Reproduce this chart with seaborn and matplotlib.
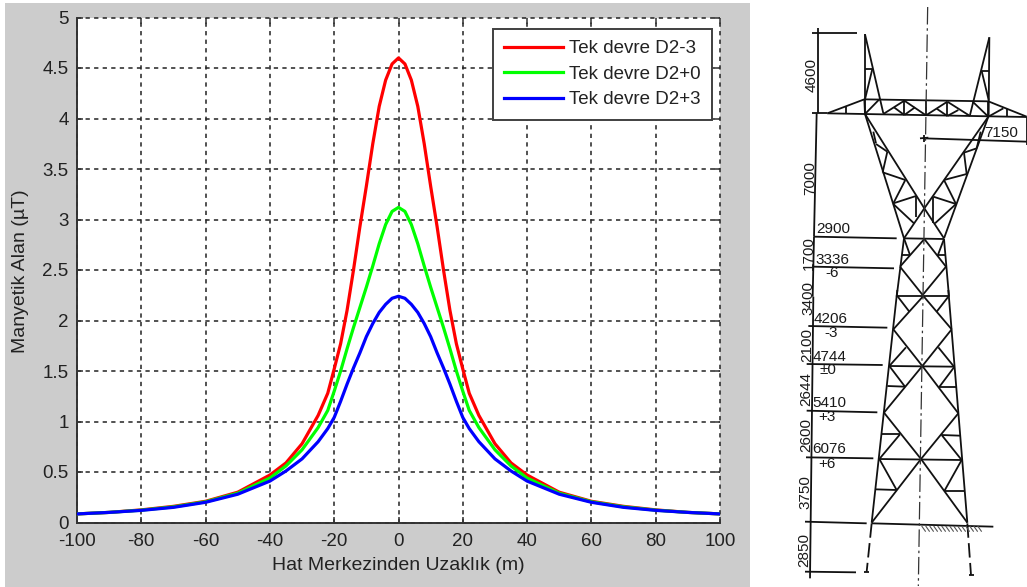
import matplotlib
matplotlib.use('Agg')
import matplotlib.pyplot as plt
import pandas as pd
import seaborn as sns
from matplotlib.collections import LineCollection
from matplotlib.patches import Rectangle

# values
x_m = [-100, -90, -80, -70, -60, -50, -40, -35, -30, -25, -22, -20, -18, -16, -14, -12, -10, -8, -6, -4, -2,
       0, 2, 4, 6, 8, 10, 12, 14, 16, 18, 20, 22, 25, 30, 35, 40, 50, 60, 70, 80, 90, 100]
red = [0.085, 0.10, 0.125, 0.16, 0.21, 0.30, 0.47, 0.59, 0.78, 1.06, 1.28, 1.52, 1.77, 2.10, 2.50, 2.93, 3.33, 3.75, 4.12, 4.38, 4.54,
       4.60, 4.54, 4.38, 4.12, 3.75, 3.33, 2.93, 2.50, 2.10, 1.77, 1.52, 1.28, 1.06, 0.78, 0.59, 0.47, 0.30, 0.21, 0.16, 0.125, 0.10, 0.085]
green = [0.085, 0.10, 0.122, 0.155, 0.205, 0.29, 0.44, 0.56, 0.72, 0.94, 1.11, 1.30, 1.50, 1.72, 1.93, 2.13, 2.33, 2.54, 2.76, 2.95, 3.08,
         3.12, 3.08, 2.95, 2.76, 2.54, 2.33, 2.13, 1.93, 1.72, 1.50, 1.30, 1.11, 0.94, 0.72, 0.56, 0.44, 0.29, 0.205, 0.155, 0.122, 0.10, 0.085]
blue = [0.085, 0.10, 0.12, 0.15, 0.20, 0.28, 0.41, 0.51, 0.63, 0.80, 0.93, 1.04, 1.20, 1.37, 1.53, 1.68, 1.84, 1.97, 2.08, 2.16, 2.22,
        2.24, 2.22, 2.16, 2.08, 1.97, 1.84, 1.68, 1.53, 1.37, 1.20, 1.04, 0.93, 0.80, 0.63, 0.51, 0.41, 0.28, 0.20, 0.15, 0.12, 0.10, 0.085]
series_names = ['Tek devre D2-3', 'Tek devre D2+0', 'Tek devre D2+3']
series_colors = ['#ff0000', '#00ff00', '#0000ff']
x_ticks = [-100, -80, -60, -40, -20, 0, 20, 40, 60, 80, 100]
x_tick_labels = ['-100', '-80', '-60', '-40', '-20', '0', '20', '40', '60', '80', '100']
y_ticks = [0, 0.5, 1, 1.5, 2, 2.5, 3, 3.5, 4, 4.5, 5]
y_tick_labels = ['0', '0.5', '1', '1.5', '2', '2.5', '3', '3.5', '4', '4.5', '5']

# tower drawing, traced in the pixel grid of the two crops (3x, origin 770,0 and 770,290)
tower_upper = [
    ((172, 340), (283, 298)), ((283, 298), (655, 304)), ((655, 304), (770, 350)), ((172, 340), (770, 351)),
    ((228, 320), (228, 342)), ((283, 298), (285, 342)), ((403, 300), (403, 345)), ((468, 302), (468, 346)),
    ((532, 305), (532, 348)), ((655, 304), (655, 350)), ((710, 328), (710, 350)),
    ((285, 342), (328, 298)), ((340, 342), (403, 302)), ((403, 302), (468, 346)), ((372, 322), (403, 345)),
    ((403, 345), (435, 322)), ((468, 346), (532, 305)), ((532, 305), (600, 348)), ((500, 326), (532, 348)),
    ((532, 348), (565, 330)), ((608, 305), (655, 350)), ((655, 350), (700, 325)),
    ((285, 103), (285, 340)), ((285, 103), (340, 340)), ((285, 207), (307, 207)), ((307, 207), (285, 298)),
    ((658, 112), (656, 345)), ((658, 112), (600, 345)), ((635, 213), (656, 213)), ((635, 213), (656, 300)),
    ((285, 342), (402, 715)), ((655, 350), (522, 715)), ((285, 342), (463, 625)), ((655, 350), (463, 625)),
    ((463, 625), (522, 715)), ((463, 625), (402, 715)),
    ((310, 395), (318, 430)), ((318, 432), (352, 455)), ((352, 455), (338, 517)), ((338, 517), (406, 540)),
    ((406, 540), (370, 610)), ((370, 610), (438, 588)), ((438, 588), (438, 650)), ((370, 612), (432, 670)),
    ((632, 395), (620, 445)), ((620, 445), (582, 458)), ((582, 458), (590, 522)), ((590, 522), (522, 540)),
    ((522, 540), (558, 612)), ((558, 612), (490, 590)), ((490, 590), (490, 668)), ((558, 612), (495, 670)),
    ((402, 715), (522, 717)), ((402, 715), (380, 890)), ((522, 717), (537, 890)),
    ((463, 717), (390, 800)), ((463, 717), (528, 800)), ((390, 800), (458, 885)), ((528, 800), (458, 885)),
    ((395, 765), (420, 765)), ((505, 765), (525, 765)), ((402, 715), (420, 765)), ((522, 717), (503, 767)),
    ((380, 888), (537, 888)),
    # dimension lines
    ((145, 85), (145, 340)), ((125, 100), (262, 100)), ((125, 340), (172, 340)), ((140, 340), (132, 710)),
    ((132, 710), (380, 715)), ((130, 800), (372, 805)), ((132, 710), (128, 890)),
    ((462, 415), (770, 425)), ((450, 415), (475, 413)), ((462, 405), (462, 425)), ((770, 350), (770, 435)),
]
tower_lower = [
    ((382, 0), (305, 698)), ((535, 0), (592, 698)),
    ((460, 18), (370, 118)), ((460, 18), (545, 118)), ((370, 118), (457, 228)), ((545, 118), (457, 228)),
    ((358, 228), (552, 230)), ((457, 228), (342, 368)), ((457, 228), (565, 370)),
    ((342, 368), (453, 507)), ((565, 370), (453, 507)), ((328, 507), (575, 510)),
    ((453, 507), (305, 698)), ((453, 507), (592, 698)),
    ((382, 18), (418, 65)), ((535, 20), (500, 65)), ((408, 172), (358, 228)), ((505, 172), (552, 230)),
    ((358, 228), (405, 290)), ((352, 288), (405, 290)), ((552, 232), (507, 292)), ((507, 292), (558, 292)),
    ((335, 433), (390, 433)), ((390, 433), (328, 507)), ((515, 435), (570, 437)), ((515, 435), (575, 510)),
    ((328, 507), (380, 600)), ((317, 598), (380, 600)), ((575, 510), (523, 603)), ((523, 603), (583, 603)),
    # dimension lines
    ((130, 20), (120, 865)), ((115, 108), (352, 113)), ((110, 222), (338, 225)), ((110, 362), (322, 367)),
    ((108, 502), (310, 505)), ((105, 695), (290, 700)), ((305, 700), (670, 710)), ((105, 845), (258, 847)),
    ((282, 847), (296, 847)), ((596, 855), (612, 855)),
]
tower_dashed = [((305, 700), (290, 845)), ((592, 700), (603, 855))]
ground_hatch = [((455 + i * 12, 708), (467 + i * 12, 725)) for i in range(15)]

# (text, crop x, crop y, rotation)
upper_labels = [('4600', 125, 225, 90), ('7000', 120, 535, 90), ('2900', 190, 688, 0), ('1700', 118, 760, 90),
                ('3336', 188, 780, 0), ('-6', 185, 820, 0), ('7150', 693, 398, 0)]
lower_labels = [('3400', 115, 25, 90), ('4206', 183, 87, 0), ('-3', 183, 130, 0), ('2100', 113, 165, 90),
                ('4744', 180, 200, 0), ('±0', 175, 240, 0), ('2644', 110, 298, 90), ('5410', 178, 340, 0),
                ('+3', 170, 382, 0), ('2600', 108, 435, 90), ('6076', 178, 478, 0), ('+6', 172, 522, 0),
                ('3750', 105, 605, 90), ('2850', 102, 780, 90)]


def up(p):
    return (770 + p[0] / 3, p[1] / 3)


def low(p):
    return (770 + p[0] / 3, 290 + p[1] / 3)


W, H = 1027, 587
plt.rcParams['font.family'] = ['Liberation Sans', 'DejaVu Sans']
fig = plt.figure(figsize=(W / 100, H / 100), dpi=100, facecolor='white')

# background layer in pixel coordinates: grey panel and the tower
bg = fig.add_axes([0, 0, 1, 1], zorder=0)
bg.set_xlim(0, W)
bg.set_ylim(H, 0)
bg.axis('off')
bg.add_patch(Rectangle((5, 3), 745, 584, facecolor='#cccccc', edgecolor='none'))

solid = [(up(a), up(b)) for a, b in tower_upper] + [(low(a), low(b)) for a, b in tower_lower]
bg.add_collection(LineCollection(solid, colors='#111111', linewidths=1.3))
bg.add_collection(LineCollection([(low(a), low(b)) for a, b in tower_dashed], colors='#111111',
                                 linewidths=1.3, linestyles=[(0, (8, 3))]))
bg.add_collection(LineCollection([(low(a), low(b)) for a, b in ground_hatch], colors='#555555', linewidths=0.8))
bg.plot([770 + 473 / 3, 770 + 445 / 3], [7, 586], color='#333333', lw=0.9, ls=(0, (14, 3, 2, 3)))
for txt, cx, cy, rot in upper_labels:
    px, py = up((cx, cy))
    bg.text(px, py, txt, rotation=rot, ha='center', va='center', fontsize=11, color='#1a1a1a')
for txt, cx, cy, rot in lower_labels:
    px, py = low((cx, cy))
    bg.text(px, py, txt, rotation=rot, ha='center', va='center', fontsize=11, color='#1a1a1a')

# chart
ax = fig.add_axes([77 / W, 1 - 522.5 / H, (720 - 77) / W, (522.5 - 17.5) / H], zorder=1)
df = pd.concat([pd.DataFrame({'x': x_m, 'y': vals, 'seri': name})
                for vals, name in zip([red, green, blue], series_names)])
sns.lineplot(data=df, x='x', y='y', hue='seri', palette=series_colors, estimator=None, sort=False,
             linewidth=2.3, ax=ax, zorder=3)
ax.set_xlim(-100, 100)
ax.set_ylim(0, 5)
ax.set_xticks(x_ticks)
ax.set_xticklabels(x_tick_labels)
ax.set_yticks(y_ticks)
ax.set_yticklabels(y_tick_labels)
ax.grid(True, color='#222222', lw=1.1, ls=(0, (2.8, 2.8)))
for line in ax.get_xgridlines() + ax.get_ygridlines():
    line.set_clip_on(False)
ax.set_axisbelow(True)
for side in ['top', 'right']:
    ax.spines[side].set_visible(False)
for side in ['left', 'bottom']:
    ax.spines[side].set_linewidth(1.4)
    ax.spines[side].set_color('#333333')
ax.tick_params(direction='in', length=4, width=1.1, color='#333333', labelsize=13.5, labelcolor='#222222',
               top=True, right=True)
ax.tick_params(axis='x', pad=7.5)
ax.tick_params(axis='y', pad=6)
ax.set_xlabel('Hat Merkezinden Uzaklık (m)', fontsize=14, color='#222222')
ax.set_ylabel('Manyetik Alan (µT)', fontsize=14, color='#222222')
ax.xaxis.set_label_coords((398 - 77) / 643, -(565 - 522.5) / 505)
ax.yaxis.set_label_coords((21 - 77) / 643, (522.5 - 271) / 505)
ax.xaxis.label.set_va('center')
ax.yaxis.label.set_va('center')

leg = ax.legend(title=None, loc='upper left', bbox_to_anchor=((493 - 77) / 643, 1 - (29 - 17.5) / 505),
                borderaxespad=0, fontsize=13.5, frameon=True, fancybox=False, framealpha=1, edgecolor='#404040',
                handlelength=3.15, handletextpad=0.32, labelspacing=0.45, borderpad=0.6)
leg.get_frame().set_linewidth(1.4)
for t in leg.get_texts():
    t.set_color('#222222')

fig.savefig('out.png', dpi=100)
